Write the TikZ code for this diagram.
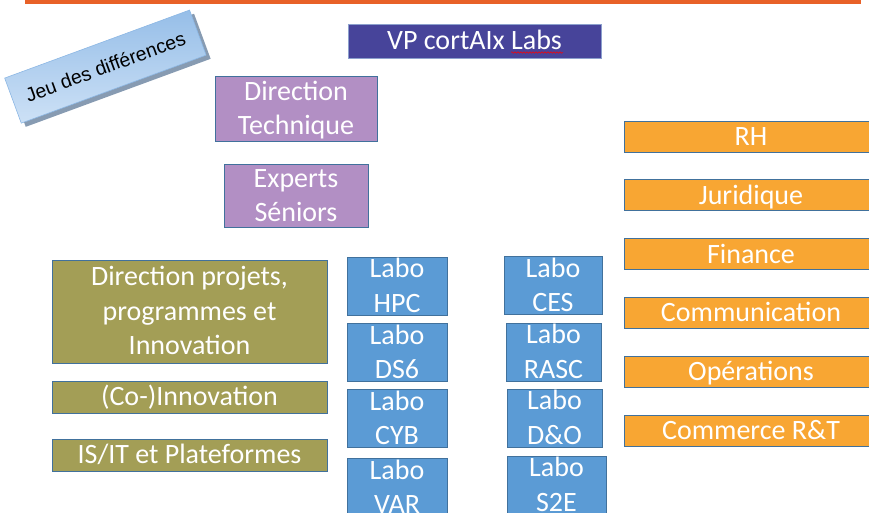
\documentclass[tikz,border=0pt]{standalone}
\usepackage{fontspec}
\setmainfont{Carlito}
\newfontfamily\jeufont{Liberation Sans}
\usetikzlibrary{positioning, decorations.pathmorphing}
\definecolor{cxorange}{RGB}{232,97,40}
\definecolor{cxvp}{RGB}{71,68,154}
\definecolor{cxvpedge}{RGB}{140,160,205}
\definecolor{cxmauve}{RGB}{178,143,196}
\definecolor{cxolive}{RGB}{163,158,86}
\definecolor{cxlabo}{RGB}{91,155,213}
\definecolor{cxsupport}{RGB}{248,166,51}
\definecolor{cxedge}{RGB}{65,113,156}
\definecolor{cxjeutop}{RGB}{150,190,232}
\definecolor{cxjeubot}{RGB}{205,225,246}
\definecolor{cxjeuedge}{RGB}{140,183,228}
\definecolor{cxjeushade}{RGB}{135,155,178}
% one line of PowerPoint text: 26pt above the baseline, 8.5pt below
\newcommand{\cxstrut}{\rule[-8.5pt]{0pt}{34.5pt}}
\tikzset{
    cxbox/.style={rectangle, draw=cxedge, line width=0.9pt, inner xsep=0pt, inner ysep=-8pt, text=white, align=center,
        font=\fontsize{28}{34.5}\selectfont, execute at end node=\cxstrut},
    vpnode/.style={cxbox, fill=cxvp, draw=cxvpedge, minimum width=253pt, minimum height=34pt},
    technode/.style={cxbox, fill=cxmauve, font=\fontsize{28}{33.5}\selectfont},
    programnode/.style={cxbox, fill=cxolive, minimum width=275pt},
    labonode/.style={cxbox, fill=cxlabo, minimum height=58pt},
    supportnode/.style={cxbox, fill=cxsupport, minimum width=254pt, minimum height=31pt},
    jeunode/.style={rectangle, rotate=20.2, minimum width=197pt, minimum height=48pt, inner sep=0pt, font=\jeufont\fontsize{19.5}{22}\selectfont},
    spellwave/.style={red, line width=0.5pt, decorate, decoration={snake, amplitude=0.8pt, segment length=3pt}}
}
\begin{document}
\begin{tikzpicture}[x=1pt, y=-1pt]
    \useasboundingbox (0,0) rectangle (869,512);
    \clip (0,0) rectangle (869,512);
    \fill[cxorange] (25,0) rectangle (861,4);

    % title and direction
    \node[vpnode] (vp) at (474.5,41) {VP cortAIx Labs};
    \draw[spellwave] (511,52.5) -- (563,52.5);
    \node[technode, minimum width=162pt, minimum height=65pt] (dirtech) at (296,108.5) {\cxstrut Direction\\Technique};
    \node[technode, minimum width=144pt, minimum height=63pt] (experts) at (296,195.5) {\cxstrut Experts\\Séniors};

    % jeu des differences
    \node[jeunode, fill=cxjeushade] (jeushade) at (109.9,70.3) {};
    \node[jeunode, draw=cxjeuedge, line width=0.6pt, top color=cxjeutop, bottom color=cxjeubot] (jeu) at (105.4,66.6) {Jeu des différences};

    % programmes
    \node[programnode, minimum height=103pt] (dirprog) at (189.5,311.5) {\cxstrut Direction projets,\\programmes et\\Innovation};
    \node[programnode, minimum height=32pt] (coinno) at (189.5,397) {(Co-)Innovation};
    \node[programnode, minimum height=32pt] (isit) at (189.5,455) {IS/IT et Plateformes};

    % labos
    \node[labonode, minimum width=100pt] (hpc) at (397,286) {\cxstrut Labo\\HPC};
    \node[labonode, minimum width=100pt, below=8pt of hpc] (ds6) {\cxstrut Labo\\DS6};
    \node[labonode, minimum width=100pt, below=7pt of ds6] (cyb) {\cxstrut Labo\\CYB};
    \node[labonode, minimum width=100pt, below=10pt of cyb] (var) {\cxstrut Labo\\VAR};
    \node[labonode, minimum width=98pt] (ces) at (553,285.5) {\cxstrut Labo\\CES};
    \node[labonode, minimum width=95pt] (rasc) at (553.5,352) {\cxstrut Labo\\RASC};
    \node[labonode, minimum width=95pt] (dno) at (554.5,418) {\cxstrut Labo\\D\&O};
    \node[labonode, minimum width=99pt] (s2e) at (556.5,485) {\cxstrut Labo\\S2E};

    % fonctions support
    \node[supportnode] (rh) at (751,136.5) {RH};
    \node[supportnode, below=27pt of rh] (juri) {Juridique};
    \node[supportnode, below=27pt of juri] (fin) {Finance};
    \node[supportnode, below=27pt of fin] (com) {Communication};
    \node[supportnode, below=27pt of com] (ops) {Opérations};
    \node[supportnode, below=27pt of ops] (comm) {Commerce R\&T};
\end{tikzpicture}
\end{document}
